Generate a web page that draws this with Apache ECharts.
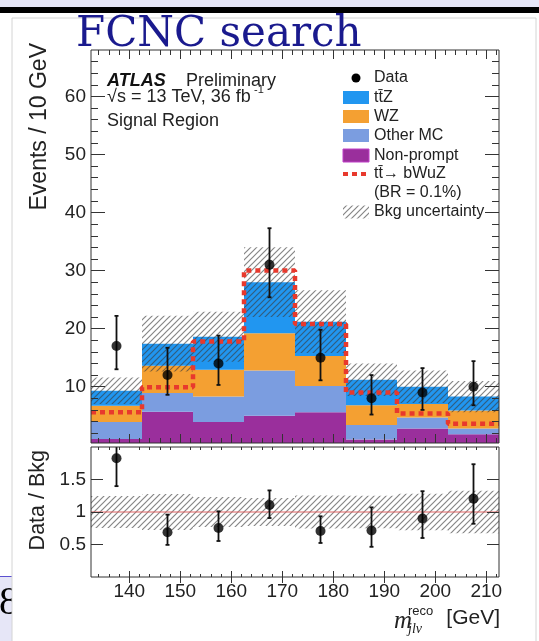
<!DOCTYPE html>
<html><head><meta charset="utf-8">
<script src="https://cdn.jsdelivr.net/npm/echarts@6/dist/echarts.min.js"></script>
<style>html,body{margin:0;padding:0;background:#fff}#c{width:539px;height:641px}</style>
</head><body><div id="c"></div>
<script>
// ---------- data ----------
const binEdges   = [132.5, 142.5, 152.5, 162.5, 172.5, 182.5, 192.5, 202.5, 212.5];
const nonPrompt  = [1.0, 5.7, 3.9, 5.0, 5.6, 0.9, 2.8, 1.8];
const otherMC    = [2.9, 3.2, 4.4, 7.8, 4.5, 2.5, 1.9, 1.0];
const wzVals     = [2.8, 4.7, 4.6, 6.4, 5.2, 3.4, 2.3, 3.1];
const ttzVals    = [2.6, 3.8, 5.7, 8.8, 5.9, 4.4, 3.0, 2.4];
const bkgUnc     = [2.3, 4.8, 4.3, 6.0, 5.4, 2.8, 2.8, 2.7];
const dataVals   = [17, 12, 14, 31, 15, 8, 9, 10];
const dataUp     = [22.2, 16.7, 18.8, 37.3, 19.8, 12.0, 13.2, 14.4];
const dataDown   = [13.0, 8.6, 10.3, 25.4, 11.1, 5.2, 6.0, 6.8];
const signalVals = [5.6, 9.9, 17.8, 30.0, 20.8, 9.0, 5.4, 3.6];
const xMajorTicks = [140, 150, 160, 170, 180, 190, 200, 210];
const xMinorTicks = [134,136,138,142,144,146,148,152,154,156,158,162,164,166,168,172,174,176,178,182,184,186,188,192,194,196,198,202,204,206,208,212];
const mainYTicks  = [0, 10, 20, 30, 40, 50, 60];
const mainYLabels = [10, 20, 30, 40, 50, 60];
const mainYMinor  = [2,4,6,8,12,14,16,18,22,24,26,28,32,34,36,38,42,44,46,48,52,54,56,58,62,64,66];
const ratioYTicks = [0.5, 1, 1.5];

// ---------- derived ----------
const nb = dataVals.length;
const layers = [nonPrompt, otherMC, wzVals, ttzVals];
const layerColors = ['#9a2f9c', '#7b9de0', '#f4a032', '#2196f0'];
const totals = [];
const stacked = layers.map(() => []);
for (let i = 0; i < nb; i++) {
  let base = 0;
  layers.forEach((l, k) => { stacked[k].push([binEdges[i], binEdges[i+1], base, base + l[i]]); base += l[i]; });
  totals.push(base);
}
const centers = dataVals.map((_, i) => (binEdges[i] + binEdges[i+1]) / 2);

function hatch(color, lw) {
  const s = 6, c = document.createElement('canvas'); c.width = c.height = s;
  const g = c.getContext('2d');
  g.strokeStyle = color; g.lineWidth = lw;
  g.beginPath();
  g.moveTo(0, s); g.lineTo(s, 0);
  g.moveTo(-1, 1); g.lineTo(1, -1);
  g.moveTo(s-1, s+1); g.lineTo(s+1, s-1);
  g.stroke();
  return {image: c, repeat: 'repeat'};
}
const hatchFill = hatch('rgba(60,60,60,0.62)', 1.2);

function rectSeries(data, fill, xi, yi, z) {
  return {
    type: 'custom', xAxisIndex: xi, yAxisIndex: yi, z: z, clip: true,
    data: data, encode: {x: [0, 1], y: [2, 3]},
    renderItem: (params, api) => {
      const p0 = api.coord([api.value(0), api.value(3)]);
      const p1 = api.coord([api.value(1), api.value(2)]);
      return {type: 'rect', shape: {x: p0[0], y: p0[1], width: p1[0] - p0[0], height: p1[1] - p0[1]},
              style: {fill: fill}};
    }
  };
}
function errSeries(data, xi, yi) {
  return {
    type: 'custom', xAxisIndex: xi, yAxisIndex: yi, z: 6, clip: true,
    data: data, encode: {x: 0, y: [1, 2]},
    renderItem: (params, api) => {
      const a = api.coord([api.value(0), api.value(1)]);
      const b = api.coord([api.value(0), api.value(2)]);
      const st = {stroke: '#111', lineWidth: 1.8};
      return {type: 'group', children: [
        {type: 'line', shape: {x1: a[0], y1: a[1], x2: b[0], y2: b[1]}, style: st},
        {type: 'line', shape: {x1: a[0]-2, y1: a[1], x2: a[0]+2, y2: a[1]}, style: st},
        {type: 'line', shape: {x1: b[0]-2, y1: b[1], x2: b[0]+2, y2: b[1]}, style: st}
      ]};
    }
  };
}

const series = [];
stacked.forEach((d, k) => series.push(rectSeries(d, layerColors[k], 0, 0, 2)));
series.push(rectSeries(totals.map((t, i) => [binEdges[i], binEdges[i+1], t - bkgUnc[i], t + bkgUnc[i]]), hatchFill, 0, 0, 3));
const sigLine = signalVals.map((s, i) => [binEdges[i], s]); sigLine.push([binEdges[nb], signalVals[nb-1]]);
series.push({type: 'line', xAxisIndex: 0, yAxisIndex: 0, step: 'end', symbol: 'none', z: 4, data: sigLine,
  lineStyle: {color: '#e8392d', width: 4.5, type: [5, 4], cap: 'butt'}});
series.push(errSeries(centers.map((c, i) => [c, dataDown[i], dataUp[i]]), 0, 0));
series.push({type: 'scatter', xAxisIndex: 0, yAxisIndex: 0, z: 7, symbolSize: 10, itemStyle: {color: '#000'},
  data: centers.map((c, i) => [c, dataVals[i]])});
// ratio panel
series.push(rectSeries(totals.map((t, i) => [binEdges[i], binEdges[i+1], 1 - bkgUnc[i]/t, 1 + bkgUnc[i]/t]), hatchFill, 8, 4, 3));
series.push({type: 'line', xAxisIndex: 8, yAxisIndex: 4, symbol: 'none', z: 4, data: [[binEdges[0], 1], [binEdges[nb], 1]],
  lineStyle: {color: '#e06060', width: 1}});
series.push(errSeries(centers.map((c, i) => [c, dataDown[i]/totals[i], dataUp[i]/totals[i]]), 8, 4));
series.push({type: 'scatter', xAxisIndex: 8, yAxisIndex: 4, z: 7, symbolSize: 10, itemStyle: {color: '#000'},
  data: centers.map((c, i) => [c, dataVals[i]/totals[i]])});

const FONT = 'Liberation Sans';
const tickColor = '#333';
function xAx(grid, pos, ticks, len, labels) {
  return {type: 'value', gridIndex: grid, position: pos, min: binEdges[0], max: binEdges[nb], z: 10,
    splitLine: {show: false}, axisLine: {show: false},
    axisTick: {show: true, inside: true, length: len, customValues: ticks, lineStyle: {color: tickColor, width: 1}},
    axisLabel: labels ? {show: true, customValues: labels, fontSize: 19, color: '#222', margin: 5, fontFamily: FONT} : {show: false}};
}
function yAx(grid, pos, min, max, ticks, len, labels, fmt) {
  return {type: 'value', gridIndex: grid, position: pos, min: min, max: max, z: 10,
    splitLine: {show: false}, axisLine: {show: false},
    axisTick: {show: true, inside: true, length: len, customValues: ticks, lineStyle: {color: tickColor, width: 1}},
    axisLabel: labels ? {show: true, customValues: labels, fontSize: 19, color: '#222', margin: 5, fontFamily: FONT, formatter: fmt} : {show: false}};
}

const option = {
  backgroundColor: '#fff',
  animation: false,
  grid: [
    {left: 91, top: 50, width: 408, height: 393, show: true, borderColor: '#333', borderWidth: 1, z: 10},
    {left: 91, top: 447, width: 408, height: 130, show: true, borderColor: '#333', borderWidth: 1, z: 10}
  ],
  xAxis: [
    xAx(0, 'bottom', xMajorTicks, 9), xAx(0, 'bottom', xMinorTicks, 5),
    xAx(0, 'top', xMajorTicks, 9), xAx(0, 'top', xMinorTicks, 5),
    xAx(1, 'bottom', xMinorTicks, 3), xAx(1, 'top', xMajorTicks, 6), xAx(1, 'top', xMinorTicks, 3),
    xAx(1, 'bottom', xMinorTicks, 3),
    xAx(1, 'bottom', xMajorTicks, 6, xMajorTicks)
  ],
  yAxis: [
    yAx(0, 'left', 0.3, 68, mainYTicks, 14, mainYLabels, v => String(v)),
    yAx(0, 'left', 0.3, 68, mainYMinor, 7),
    yAx(0, 'right', 0.3, 68, mainYTicks, 14),
    yAx(0, 'right', 0.3, 68, mainYMinor, 7),
    yAx(1, 'left', 0, 2, ratioYTicks, 12, ratioYTicks, v => String(v)),
    yAx(1, 'right', 0, 2, ratioYTicks, 12)
  ],
  series: series,
  graphic: [
    // slide decoration
    {type: 'rect', z: -5, shape: {x: 0, y: 0, width: 539, height: 7}, style: {fill: '#e6e6f7'}},
    {type: 'rect', z: -5, shape: {x: 0, y: 7, width: 539, height: 6}, style: {fill: '#000'}},
    {type: 'rect', z: -5, shape: {x: 0, y: 577, width: 12, height: 64}, style: {fill: '#e6e6f7'}},
    {type: 'line', z: -5, shape: {x1: 0, y1: 576.5, x2: 12, y2: 576.5}, style: {stroke: '#5b50d0', lineWidth: 1}},
    {type: 'text', z: -5, style: {x: -1, y: 603, text: '8', font: '40px "Liberation Serif"', fill: '#000', verticalAlign: 'middle'}},
    {type: 'rect', z: -4, shape: {x: 12, y: 18, width: 524, height: 640}, style: {fill: '#fff', stroke: '#d4d4d4', lineWidth: 1}},
    // title
    {type: 'text', z: 20, style: {x: 76, y: 35, text: 'FCNC search', font: '42px "DejaVu Serif"', fill: '#1a1a8e', verticalAlign: 'middle'}},
    // axis titles
    {type: 'text', z: 20, x: 40, y: 43, rotation: Math.PI / 2,
      style: {x: 0, y: 0, text: 'Events / 10 GeV', font: '23px "Liberation Sans"', fill: '#222', align: 'right', verticalAlign: 'middle'}},
    {type: 'text', z: 20, x: 38, y: 450, rotation: Math.PI / 2,
      style: {x: 0, y: 0, text: 'Data / Bkg', font: '21.5px "Liberation Sans"', fill: '#222', align: 'right', verticalAlign: 'middle'}},
    {type: 'text', z: 20, style: {x: 394, y: 621, text: 'm', font: 'italic 25px "Liberation Serif"', fill: '#222', verticalAlign: 'middle'}},
    {type: 'text', z: 20, style: {x: 408, y: 611, text: 'reco', font: '13px "Liberation Sans"', fill: '#222', verticalAlign: 'middle'}},
    {type: 'text', z: 20, style: {x: 408, y: 629, text: 'jlν', font: 'italic 14px "Liberation Serif"', fill: '#222', verticalAlign: 'middle'}},
    {type: 'text', z: 20, style: {x: 500, y: 618, text: '[GeV]', font: '21px "Liberation Sans"', fill: '#222', align: 'right', verticalAlign: 'middle'}},
    // ATLAS label
    {type: 'text', z: 20, style: {x: 107, y: 81, text: 'ATLAS', font: 'italic bold 18px "Liberation Sans"', fill: '#111', verticalAlign: 'middle'}},
    {type: 'text', z: 20, style: {x: 186, y: 81, text: 'Preliminary', font: '18px "Liberation Sans"', fill: '#222', verticalAlign: 'middle'}},
    {type: 'text', z: 20, style: {x: 107, y: 97, text: '√s = 13 TeV, 36 fb', font: '18px "Liberation Sans"', fill: '#222', verticalAlign: 'middle'}},
    {type: 'text', z: 20, style: {x: 254, y: 90, text: '-1', font: '11px "Liberation Sans"', fill: '#222', verticalAlign: 'middle'}},
    {type: 'text', z: 20, style: {x: 107, y: 121, text: 'Signal Region', font: '18px "Liberation Sans"', fill: '#222', verticalAlign: 'middle'}},
    // legend
    {type: 'circle', z: 20, shape: {cx: 356, cy: 78, r: 4.5}, style: {fill: '#000'}},
    {type: 'text', z: 20, style: {x: 374, y: 78, text: 'Data', font: '16px "Liberation Sans"', fill: '#222', verticalAlign: 'middle'}},
    {type: 'rect', z: 20, shape: {x: 343, y: 91, width: 26, height: 13}, style: {fill: layerColors[3]}},
    {type: 'text', z: 20, style: {x: 374, y: 97.5, text: 'tt\u0304Z', font: '16px "Liberation Sans"', fill: '#222', verticalAlign: 'middle'}},
    {type: 'rect', z: 20, shape: {x: 343, y: 110, width: 26, height: 13}, style: {fill: layerColors[2]}},
    {type: 'text', z: 20, style: {x: 374, y: 116.5, text: 'WZ', font: '16px "Liberation Sans"', fill: '#222', verticalAlign: 'middle'}},
    {type: 'rect', z: 20, shape: {x: 343, y: 129, width: 26, height: 13}, style: {fill: layerColors[1]}},
    {type: 'text', z: 20, style: {x: 374, y: 135.5, text: 'Other MC', font: '16px "Liberation Sans"', fill: '#222', verticalAlign: 'middle'}},
    {type: 'rect', z: 20, shape: {x: 343, y: 149, width: 26, height: 13}, style: {fill: layerColors[0], stroke: '#c040c8', lineWidth: 1}},
    {type: 'text', z: 20, style: {x: 374, y: 155.5, text: 'Non-prompt', font: '16px "Liberation Sans"', fill: '#222', verticalAlign: 'middle'}},
    {type: 'line', z: 20, shape: {x1: 343, y1: 174, x2: 369, y2: 174}, style: {stroke: '#e8392d', lineWidth: 4, lineDash: [5, 4]}},
    {type: 'text', z: 20, style: {x: 374, y: 174, text: 'tt\u0304\u2192 bWuZ', font: '16px "Liberation Sans"', fill: '#222', verticalAlign: 'middle'}},
    {type: 'text', z: 20, style: {x: 374, y: 193, text: '(BR = 0.1%)', font: '16px "Liberation Sans"', fill: '#222', verticalAlign: 'middle'}},
    {type: 'rect', z: 20, shape: {x: 343, y: 205.5, width: 26, height: 13}, style: {fill: hatchFill}},
    {type: 'text', z: 20, style: {x: 374, y: 212, text: 'Bkg uncertainty', font: '16px "Liberation Sans"', fill: '#222', verticalAlign: 'middle'}}
  ]
};
const chart = echarts.init(document.getElementById('c'), null, {renderer: 'canvas'});
chart.setOption(option);
</script></body></html>
